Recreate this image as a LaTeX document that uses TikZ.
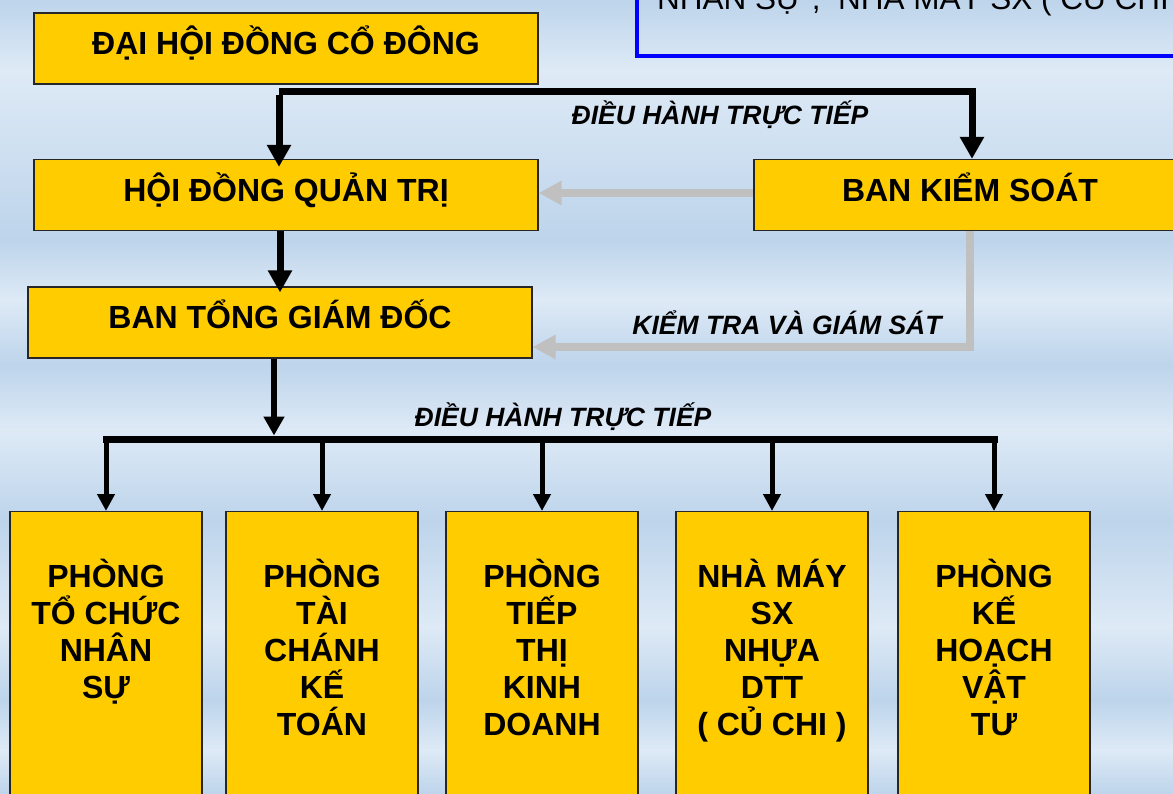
\documentclass[tikz,border=0pt]{standalone}
\usepackage{fontspec}
\setmainfont{Liberation Sans}
\usetikzlibrary{arrows.meta}
\definecolor{bgD}{RGB}{189,212,235}
\definecolor{bgL}{RGB}{222,234,246}
\definecolor{boxyellow}{RGB}{255,204,0}
\definecolor{garrow}{RGB}{192,192,192}
\begin{document}
\begin{tikzpicture}[x=1pt,y=-1pt,
  ybox/.style={draw=black!85, line width=1.2pt, fill=boxyellow, inner sep=0pt,
    font=\fontsize{32}{37}\selectfont\bfseries},
  topbox/.style={ybox, minimum width=504pt, minimum height=71pt, text height=24pt, text depth=11pt},
  botbox/.style={ybox, minimum width=192pt, minimum height=330pt, anchor=north},
  bottext/.style={anchor=north, align=center, inner sep=0pt, font=\fontsize{32}{37}\selectfont\bfseries},
  lbl/.style={anchor=base, inner sep=0pt, font=\fontsize{26.5}{30}\selectfont\bfseries\itshape},
  blkarrow/.style={draw=black, line width=7pt, -{Triangle[width=23pt,length=22pt]}},
  midarrow/.style={draw=black, line width=6pt, -{Triangle[width=20pt,length=19pt]}},
  droparrow/.style={draw=black, line width=5pt, -{Triangle[width=17pt,length=17pt]}},
  grayarrow/.style={draw=garrow, line width=8pt, line join=miter, -{Triangle[width=23pt,length=23pt]}}
]
\useasboundingbox (0,0) rectangle (1173,794);
\clip (0,0) rectangle (1173,794);
% background bands
\foreach \a/\b/\ca/\cb in {0/70/bgD/bgL, 70/240/bgL/bgD, 240/300/bgD/bgL, 300/365/bgL/bgD,
  365/430/bgD/bgL, 430/520/bgL/bgD, 520/627/bgD/bgL, 627/700/bgL/bgD, 700/750/bgD/bgL, 750/794/bgL/bgD}
  \shade[top color=\ca, bottom color=\cb] (-1,\a-0.5) rectangle (1174,\b+0.5);

% top-right note box (cut off)
\node[draw=blue, line width=4pt, minimum width=700pt, minimum height=150pt, anchor=south west] (note) at (634.5,58) {};
\node[anchor=base west, inner sep=0pt, font=\fontsize{31.5}{34}\selectfont] (notetext) at (657,10) {NHÂN SỰ ,\ \ NHÀ MÁY SX ( CỦ CHI};

% main boxes
\node[topbox] (dhdcd) at (286,48.5) {ĐẠI HỘI ĐỒNG CỔ ĐÔNG};
\node[topbox] (hdqt) at (286,195) {HỘI ĐỒNG QUẢN TRỊ};
\node[topbox, minimum width=432pt] (bks) at (970,195) {BAN KIỂM SOÁT};
\node[topbox] (btgd) at (280,322.5) {BAN TỔNG GIÁM ĐỐC};

% bottom boxes
\node[botbox] (p1) at (106,511) {};
\node[botbox] (p2) at (322,511) {};
\node[botbox] (p3) at (542,511) {};
\node[botbox] (p4) at (772,511) {};
\node[botbox] (p5) at (994,511) {};
\node[bottext] (t1) at ([yshift=-48pt]p1.north) {PHÒNG\\TỔ CHỨC\\NHÂN\\SỰ};
\node[bottext] (t2) at ([yshift=-48pt]p2.north) {PHÒNG\\TÀI\\CHÁNH\\KẾ\\TOÁN};
\node[bottext] (t3) at ([yshift=-48pt]p3.north) {PHÒNG\\TIẾP\\THỊ\\KINH\\DOANH};
\node[bottext] (t4) at ([yshift=-48pt]p4.north) {NHÀ MÁY\\SX\\NHỰA\\DTT\\( CỦ CHI )};
\node[bottext] (t5) at ([yshift=-48pt]p5.north) {PHÒNG\\KẾ\\HOẠCH\\VẬT\\TƯ};

% top connectors
\coordinate (j1) at (279,91.5);
\coordinate (j2) at (972,91.5);
\coordinate (h1) at (hdqt.north -| j1);
\draw[blkarrow, line join=miter] (j1) -- (j2) -- (j2 |- bks.north);
\draw[blkarrow] ([yshift=-3.5pt]j1) -- ([yshift=-8pt]h1);
\draw[blkarrow] ([xshift=-6pt]hdqt.south) -- ([yshift=-6pt]btgd.north);

% gray connectors
\coordinate (kc) at (bks.south |- 0,347);
\draw[grayarrow] ([yshift=2pt]bks.west) -- ([yshift=2pt]hdqt.east);
\draw[grayarrow] (bks.south) -- (kc) -- (kc -| btgd.east);

% bus
\coordinate (bus) at (274,439);
\draw[midarrow] ([xshift=-6pt]btgd.south) -- ([yshift=3.5pt]bus);
\draw[black, line width=7pt, line cap=rect] (p1.north |- bus) -- (p5.north |- bus);
\foreach \p in {p1,p2,p3,p4,p5}
  \draw[droparrow] ([yshift=-3pt]\p.north |- bus) -- (\p.north);

% labels
\node[lbl] (l1) at (720,124.5) {ĐIỀU HÀNH TRỰC TIẾP};
\node[lbl] (l2) at (787,334.5) {KIỂM TRA VÀ GIÁM SÁT};
\node[lbl] (l3) at (563,426.5) {ĐIỀU HÀNH TRỰC TIẾP};
\end{tikzpicture}
\end{document}
